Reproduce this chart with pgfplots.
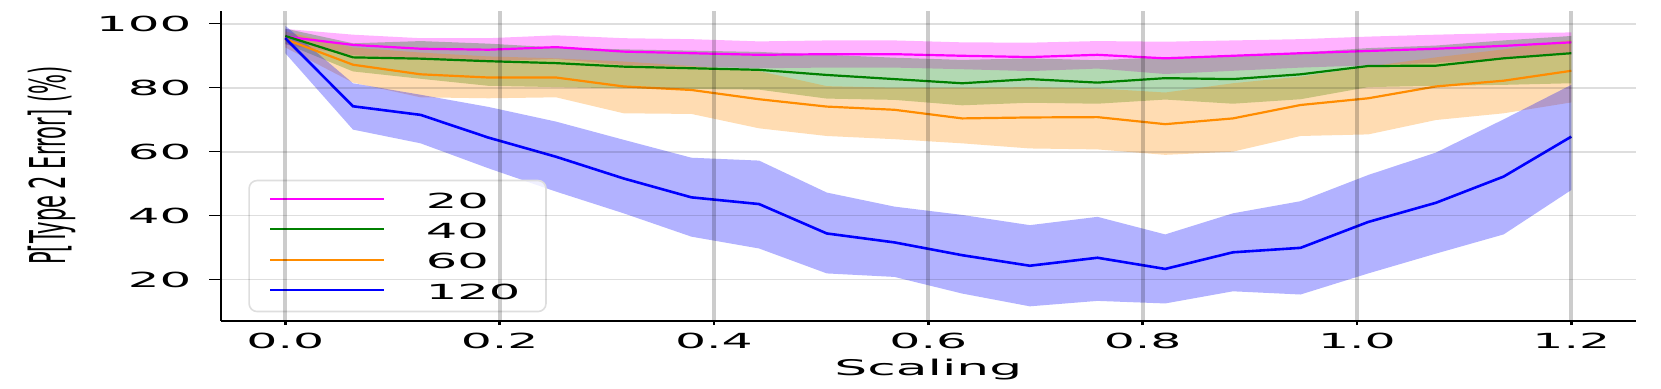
\documentclass[border=0pt]{standalone}
\usepackage{fontspec}
\setmainfont{DejaVu Sans}
\usepackage{graphicx}
\usepackage{pgfplots}
\usepackage{pgfplotstable}
\usepgfplotslibrary{fillbetween}
\pgfplotsset{compat=1.18}
\newcommand\sx[1]{\scalebox{2.35}[1]{#1}}
\newcommand\sy[1]{\scalebox{2.4}[1]{#1}}
\newcommand\slg[1]{\scalebox{2.38}[1]{#1}}
\definecolor{dorange}{RGB}{255,140,0}
\definecolor{dgreen}{RGB}{0,128,0}
\definecolor{mag}{RGB}{255,0,255}
\definecolor{blu}{RGB}{0,0,255}

\pgfplotstableread{
x m20 l20 h20 m40 l40 h40 m60 l60 h60 m120 l120 h120
0.000000 96.0 93.5 98.4 96.2 93.8 98.5 95.2 92.6 97.6 95.5 90.8 99.4
0.063158 93.4 90.2 96.6 89.5 85.1 93.9 87.2 81.6 92.6 74.2 66.9 81.4
0.126316 92.2 89.0 95.5 89.1 82.8 94.6 84.2 77.0 91.0 71.5 62.6 77.8
0.189474 91.9 88.3 95.5 88.3 80.6 93.8 83.2 76.7 89.8 64.4 54.8 74.0
0.252632 92.7 89.0 96.4 87.7 80.2 92.6 83.2 77.0 89.2 58.4 47.5 69.4
0.315789 91.3 87.1 95.5 86.6 79.8 92.0 80.4 72.0 88.2 51.6 40.7 63.7
0.378947 90.8 86.6 95.2 86.1 79.6 91.6 79.3 71.8 86.8 45.7 33.4 58.1
0.442105 90.3 86.1 94.5 85.6 79.4 91.2 76.4 67.3 85.2 43.6 29.7 57.2
0.505263 90.5 86.3 94.8 84.0 76.6 90.3 74.1 64.9 80.5 34.4 21.9 47.2
0.568421 90.5 86.3 94.8 82.7 76.2 89.4 73.1 63.9 80.0 31.6 20.8 42.8
0.631579 90.0 85.8 94.2 81.4 74.5 88.7 70.4 62.6 80.0 27.6 15.6 40.2
0.694737 89.6 85.2 94.1 82.7 75.3 89.2 70.7 61.0 80.2 24.3 11.6 37.0
0.757895 90.3 86.0 94.6 81.6 75.0 88.6 70.8 60.7 79.8 26.8 13.3 39.6
0.821053 89.2 84.3 94.4 83.0 76.3 89.6 68.6 59.0 78.5 23.3 12.5 34.1
0.884211 90.0 85.3 94.8 82.7 75.0 89.8 70.4 60.0 81.4 28.5 16.3 40.7
0.947368 90.8 86.3 95.2 84.2 76.4 91.0 74.6 64.9 83.5 29.9 15.3 44.5
1.010526 91.5 87.0 96.0 86.8 80.2 92.4 76.7 65.4 86.6 38.0 21.9 52.7
1.073684 92.2 87.8 96.6 86.9 80.6 93.2 80.4 69.9 89.5 44.0 28.1 59.7
1.136842 93.1 89.1 97.1 89.2 80.9 94.8 82.2 72.0 92.0 52.2 34.1 70.1
1.200000 94.2 91.1 97.3 90.8 81.4 96.2 85.3 75.4 95.0 64.7 48.0 80.9
}\data

\begin{document}
\begin{tikzpicture}
\begin{axis}[
  at={(0,0)}, anchor=south west,
  width=707.3pt, height=155pt, scale only axis,
  xmin=-0.06, xmax=1.26, ymin=7.1, ymax=104.1,
  axis x line*=bottom, axis y line*=left,
  axis line style={black, line width=0.9pt, -},
  xtick={0,0.2,0.4,0.6,0.8,1.0,1.2},
  xticklabels={\sx{0.0},\sx{0.2},\sx{0.4},\sx{0.6},\sx{0.8},\sx{1.0},\sx{1.2}},
  ytick={20,40,60,80,100},
  yticklabels={\sy{20},\sy{40},\sy{60},\sy{80},\sy{100}},
  tick align=outside,
  xtick style={black, line width=1.3pt, /pgfplots/major tick length=2.2pt},
  ytick style={black, line width=0.65pt, /pgfplots/major tick length=5.75pt},
  tick label style={font=\fontsize{10.4}{12}\selectfont, inner sep=0pt},
  xticklabel style={anchor=north, yshift=-1.75pt},
  yticklabel style={anchor=east, xshift=-10.3pt},
  grid=major,
  major x grid style={black, opacity=0.2, line width=2pt},
  major y grid style={black, opacity=0.13, line width=0.9pt},
  axis on top,
  xlabel={\scalebox{2.4}[1]{Scaling}},
  xlabel style={font=\fontsize{10.8}{12}\selectfont, at={(axis description cs:0.5,0)}, anchor=base, yshift=-27.6pt, inner sep=0pt},
  ylabel={\scalebox{1}[2.35]{P[Type 2 Error] (\%)}},
  ylabel style={font=\fontsize{10.5}{12}\selectfont, at={(axis description cs:-0.1195,0.5)}, anchor=center, inner sep=0pt},
  legend style={at={(axis description cs:0.0193,0.027)}, anchor=south west,
    draw=black!13, line width=0.8pt, fill=white, fill opacity=0.8, draw opacity=1, text opacity=1,
    rounded corners=4pt, inner xsep=10pt, inner ysep=6.15pt, row sep=7.6pt,
    font=\fontsize{10.4}{12}\selectfont,
    nodes={inner sep=0pt, text height=7.6pt, text depth=0pt},
    /tikz/every odd column/.append style={column sep=20.5pt}},
  legend cell align=left,
  legend image code/.code={\draw[#1, line width=1pt] (0pt,0.67pt) -- (56.85pt,0.67pt);},
]
% bands
\addplot[name path=h20, draw=none, forget plot] table[x=x,y=h20]{\data};
\addplot[name path=l20, draw=none, forget plot] table[x=x,y=l20]{\data};
\addplot[mag, fill opacity=0.3, draw=none, forget plot] fill between[of=h20 and l20];
\addplot[name path=h40, draw=none, forget plot] table[x=x,y=h40]{\data};
\addplot[name path=l40, draw=none, forget plot] table[x=x,y=l40]{\data};
\addplot[dgreen, fill opacity=0.3, draw=none, forget plot] fill between[of=h40 and l40];
\addplot[name path=h60, draw=none, forget plot] table[x=x,y=h60]{\data};
\addplot[name path=l60, draw=none, forget plot] table[x=x,y=l60]{\data};
\addplot[dorange, fill opacity=0.3, draw=none, forget plot] fill between[of=h60 and l60];
\addplot[name path=h120, draw=none, forget plot] table[x=x,y=h120]{\data};
\addplot[name path=l120, draw=none, forget plot] table[x=x,y=l120]{\data};
\addplot[blu, fill opacity=0.3, draw=none, forget plot] fill between[of=h120 and l120];
% lines
\addplot[mag, line width=1.1pt] table[x=x,y=m20]{\data};
\addlegendentry{\slg{20}}
\addplot[dgreen, line width=1.1pt] table[x=x,y=m40]{\data};
\addlegendentry{\slg{40}}
\addplot[dorange, line width=1.1pt] table[x=x,y=m60]{\data};
\addlegendentry{\slg{60}}
\addplot[blu, line width=1.3pt] table[x=x,y=m120]{\data};
\addlegendentry{\slg{120}\hspace*{2.85pt}}
\end{axis}
\pgfresetboundingbox
\path[use as bounding box] (-110.5pt,-33.65pt) rectangle (720pt,160.35pt);
\end{tikzpicture}
\end{document}
